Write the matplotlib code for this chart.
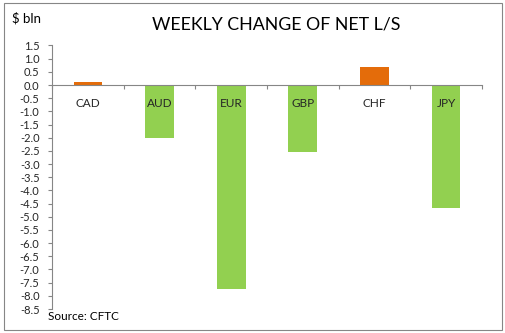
import matplotlib.pyplot as plt
from matplotlib.patches import Rectangle
from matplotlib.ticker import MultipleLocator, FormatStrFormatter

currencies = ['CAD', 'AUD', 'EUR', 'GBP', 'CHF', 'JPY']
changes = [0.1, -2.0, -7.75, -2.55, 0.7, -4.65]

plt.rcParams['font.family'] = ['Lato', 'DejaVu Sans']
plt.rcParams['axes.unicode_minus'] = False

fig = plt.figure(figsize=(5.05, 3.33), dpi=100)
ax = fig.add_axes([52 / 505, 1 - 309 / 333, 430 / 505, (309 - 45.5) / 333])

colors = ['#E46C0A' if v > 0 else '#92D050' for v in changes]
x = list(range(len(currencies)))
ax.bar(x, changes, width=0.4, color=colors, zorder=2)

ax.set_xlim(-0.5, len(currencies) - 0.5)
ax.set_ylim(-8.5, 1.5)

# y axis
ax.yaxis.set_major_locator(MultipleLocator(0.5))
ax.yaxis.set_major_formatter(FormatStrFormatter('%.1f'))
ax.tick_params(axis='y', length=3, width=0.8, color='#868686', pad=6,
               labelsize=8, labelcolor='#262626')

# x axis sits at zero
for s in ['top', 'right']:
    ax.spines[s].set_visible(False)
ax.spines['bottom'].set_position(('data', 0))
for s in ['left', 'bottom']:
    ax.spines[s].set_color('#868686')
    ax.spines[s].set_linewidth(0.8)
ax.set_xticks([i - 0.5 for i in range(len(currencies) + 1)])
ax.set_xticklabels([])
ax.tick_params(axis='x', length=3, width=0.8, color='#868686', direction='out')

for xi, cur in zip(x, currencies):
    ax.annotate(cur, (xi, 0), xytext=(0, -13), textcoords='offset points',
                ha='center', va='center', fontsize=8.5, color='#262626', zorder=3)

fig.text(276 / 505, 1 - 24 / 333, 'WEEKLY CHANGE OF NET L/S', ha='center',
         va='center', fontsize=12.8, color='#000000')
fig.text(12 / 505, 1 - 18 / 333, '$ bln', ha='left', va='center',
         fontsize=9.5, color='#000000')
fig.text(48 / 505, 1 - 316 / 333, 'Source: CFTC', ha='left', va='center',
         fontsize=8.5, color='#000000')

fig.patches.append(Rectangle((4 / 505, 1 - 330 / 333), 498 / 505, 327 / 333,
                             transform=fig.transFigure, fill=False,
                             edgecolor='#868686', linewidth=0.8))

fig.savefig('out.png', dpi=100)
